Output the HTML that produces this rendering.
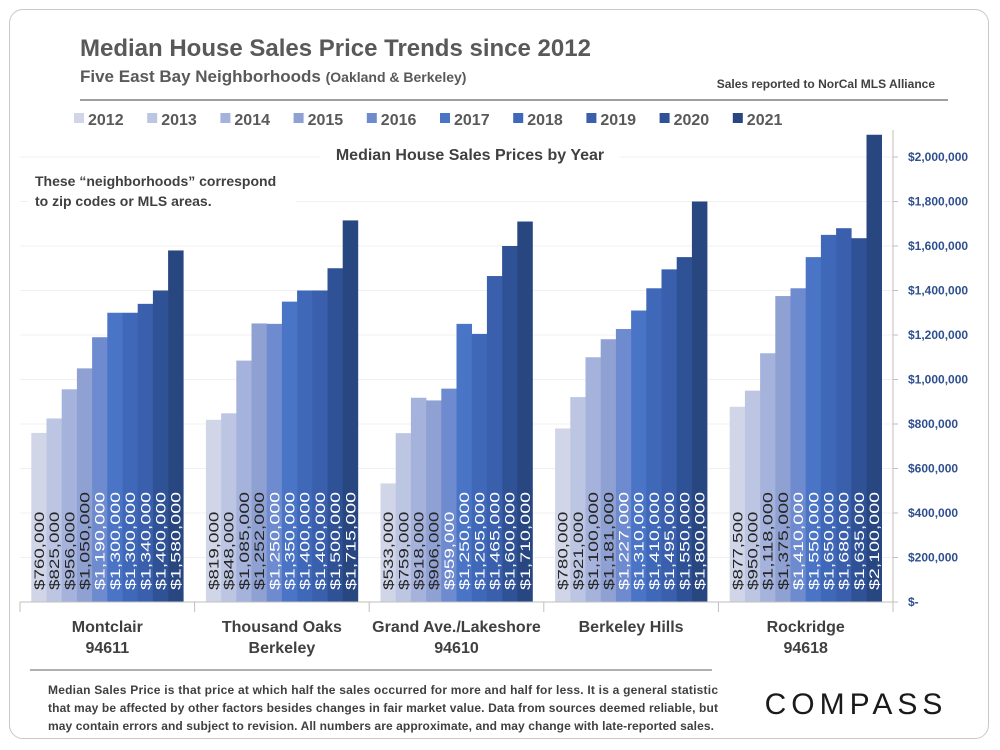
<!DOCTYPE html>
<html><head><meta charset="utf-8"><style>
body{margin:0;width:1000px;height:750px;background:#fff;font-family:"Liberation Sans",Arial,sans-serif;overflow:hidden}
#card{position:absolute;left:9px;top:9px;width:980px;height:730px;border:1.5px solid #c8c8c8;border-radius:14px;box-sizing:border-box}
</style></head><body>
<div id="card"></div>
<svg id="chart" width="1000" height="750" style="position:absolute;left:0;top:0">
<text x="80" y="56" font-size="24" font-weight="bold" fill="#595959">Median House Sales Price Trends since 2012</text>
<text x="80" y="82" font-size="17" font-weight="bold" fill="#595959">Five East Bay Neighborhoods <tspan font-size="14">(Oakland &amp; Berkeley)</tspan></text>
<text x="935" y="88" font-size="12" font-weight="bold" fill="#404040" text-anchor="end">Sales reported to NorCal MLS Alliance</text>
<line x1="80" y1="100" x2="948" y2="100" stroke="#808080" stroke-width="1.5"/>
<g id="legend"></g>
<g id="grid"></g>
<rect x="320" y="140" width="300" height="26" fill="#fff"/>
<text x="470" y="160" font-size="16" font-weight="bold" fill="#404040" text-anchor="middle">Median House Sales Prices by Year</text>
<g id="bars"></g><g id="axis"></g>
<rect x="28" y="166" width="268" height="48" fill="#fff"/>
<text x="35" y="186" font-size="14" font-weight="bold" fill="#404040"><tspan x="35">These  “neighborhoods” correspond</tspan><tspan x="35" dy="20">to zip codes or MLS areas.</tspan></text>
<line x1="30" y1="670" x2="712" y2="670" stroke="#808080" stroke-width="1.2"/>
<text font-size="12" font-weight="bold" fill="#404040"><tspan x="48" y="694" textLength="670">Median Sales Price is that price at which half the sales occurred for more and half for less. It is a general statistic</tspan><tspan x="48" y="712" textLength="670">that may be affected by other factors besides changes in fair market value. Data from sources deemed reliable, but</tspan><tspan x="48" y="730" textLength="666">may contain errors and subject to revision.  All numbers are approximate, and may change with late-reported sales.</tspan></text>
<text x="856" y="714" font-size="30" fill="#1a1a1a" text-anchor="middle" letter-spacing="5">COMPASS</text>
</svg>
<script>
const years=["2012","2013","2014","2015","2016","2017","2018","2019","2020","2021"];
const categories=[["Montclair","94611"],["Thousand Oaks","Berkeley"],["Grand Ave./Lakeshore","94610"],["Berkeley Hills",""],["Rockridge","94618"]];
const montclair=[760000,825000,956000,1050000,1190000,1300000,1300000,1340000,1400000,1580000];
const thousandOaks=[819000,848000,1085000,1252000,1250000,1350000,1400000,1400000,1500000,1715000];
const grandAve=[533000,759000,918000,906000,959000,1250000,1205000,1465000,1600000,1710000];
const berkeleyHills=[780000,921000,1100000,1181000,1227000,1310000,1410000,1495000,1550000,1800000];
const rockridge=[877500,950000,1118000,1375000,1410000,1550000,1650000,1680000,1635000,2100000];
const series=[montclair,thousandOaks,grandAve,berkeleyHills,rockridge];
const ticks=[0,200000,400000,600000,800000,1000000,1200000,1400000,1600000,1800000,2000000];
const tickLabels=["$-","$200,000","$400,000","$600,000","$800,000","$1,000,000","$1,200,000","$1,400,000","$1,600,000","$1,800,000","$2,000,000"];
const colors=["#d0d5e8","#bcc6e3","#a5b3dc","#8fa1d2","#6e8bcf","#4a74c6","#3f68b8","#3a5fac","#2f5196","#284680"];
const NS="http://www.w3.org/2000/svg";
const X0=20,X1=893,Y0=602,Y1=157,VMAX=2000000;
const catW=(X1-X0)/categories.length, barW=15.2, pad=(catW-barW*10)/2;
const y=v=>Y0-v/VMAX*(Y0-Y1);
const xb=(c,i)=>X0+c*catW+pad+i*barW;
function mk(tag,attrs,parent){const e=document.createElementNS(NS,tag);for(const k in attrs)e.setAttribute(k,attrs[k]);parent.appendChild(e);return e;}
const g=document.getElementById('grid'),b=document.getElementById('bars'),ax=document.getElementById('axis'),lg=document.getElementById('legend');
ticks.forEach((t,k)=>{
  if(t>0){const l=mk('line',{x1:X0,x2:X1,y1:y(t),y2:y(t),stroke:'#f0f0f0','stroke-width':1},g);
  
  }
  const tx=mk('text',{x:908,y:y(t)+4,'font-size':12,'font-weight':'bold',fill:'#2f4f8f'},ax);
  tx.textContent=tickLabels[k];
  
  
  const tm=mk('line',{x1:X1,x2:X1+5,y1:y(t),y2:y(t),stroke:'#bfbfbf'},ax);
  
  
});
const ya=mk('line',{x1:X1,x2:X1,y1:130,y2:Y0,stroke:'#bfbfbf','stroke-width':1},ax);


const xa=mk('line',{x1:X0,x2:X1,y1:Y0,y2:Y0,stroke:'#bfbfbf','stroke-width':1},ax);


for(let c=0;c<=categories.length;c++){const s=mk('line',{x1:X0+c*catW,x2:X0+c*catW,y1:Y0,y2:Y0+10,stroke:'#bfbfbf'},ax);

}
series.forEach((vals,c)=>{
  vals.forEach((v,i)=>{
    const r=mk('rect',{x:xb(c,i),y:y(v),width:barW+0.3,height:Y0-y(v),fill:colors[i]},b);
    
    
    const cx=xb(c,i)+barW/2+5,cy=590;
    const s='$'+v.toLocaleString('en-US');
    const t=mk('text',{x:cx,y:cy,'font-size':14,fill:i<4?'#262626':'#fff',textLength:s.length*9.8,lengthAdjust:'spacingAndGlyphs',transform:`rotate(-90 ${cx} ${cy})`},b);
    t.textContent=s;
    
    
  });
  const cx=X0+c*catW+catW/2;
  const t=mk('text',{x:cx,y:632,'font-size':16,'font-weight':'bold',fill:'#404040','text-anchor':'middle'},ax);
  t.textContent=categories[c][0];
  
  
  if(categories[c][1]){const t2=mk('text',{x:cx,y:653,'font-size':16,'font-weight':'bold',fill:'#404040','text-anchor':'middle'},ax);
  t2.textContent=categories[c][1];
  
  }
});
years.forEach((yr,i)=>{
  const lx=74+i*73.2;
  const sw=mk('rect',{x:lx,y:113,width:10,height:10,fill:colors[i]},lg);
  
  
  const t=mk('text',{x:lx+14,y:125,'font-size':16,'font-weight':'bold',fill:'#595959'},lg);
  t.textContent=yr;
  
  
});
</script>
</body></html>
